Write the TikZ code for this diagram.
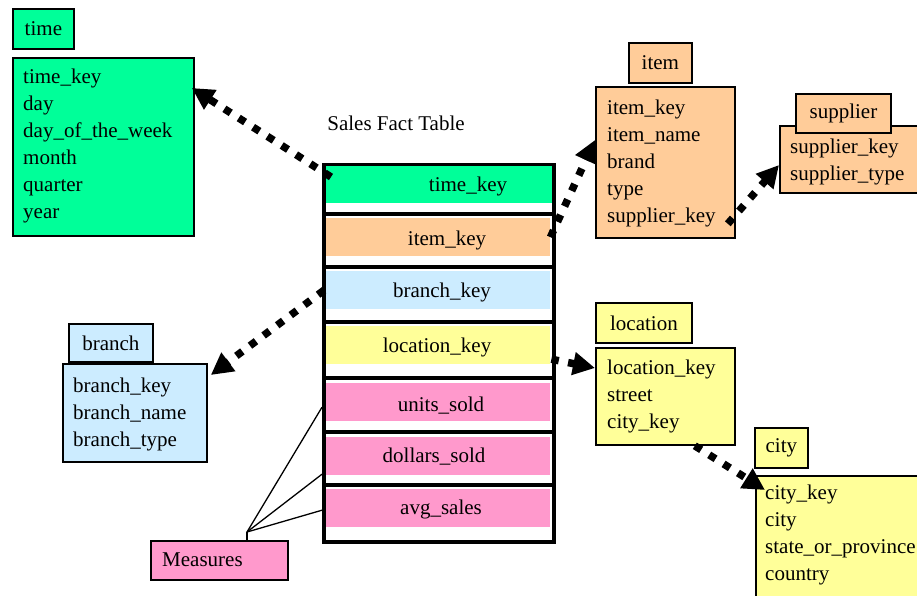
\documentclass[tikz,border=0pt]{standalone}
\usepackage{fontspec}
\setmainfont{Liberation Serif}
\usetikzlibrary{arrows.meta}
\definecolor{dimgreen}{RGB}{0,255,153}
\definecolor{dimorange}{RGB}{255,204,153}
\definecolor{dimblue}{RGB}{204,236,255}
\definecolor{dimyellow}{RGB}{255,255,153}
\definecolor{dimpink}{RGB}{255,153,204}
\tikzset{
  box/.style={draw, line width=1.8pt, anchor=north west, inner sep=0pt},
  fields/.style={anchor=north west, inner sep=0pt, align=left},
  rowfill/.style={anchor=north west, inner sep=0pt, minimum width=226pt, minimum height=38pt},
  rowsep/.style={line width=4pt},
  fk/.style={line width=7.5pt, dash pattern=on 7.5pt off 9.5pt,
             -{Triangle[length=22pt,width=22pt]}},
  measureline/.style={line width=1.3pt},
}
\begin{document}
\begin{tikzpicture}[x=1pt,y=-1pt,font=\fontsize{21}{27}\selectfont]
\useasboundingbox (0,0) rectangle (917,596);

% ---------- time dimension ----------
\node[box, fill=dimgreen, minimum width=181pt, minimum height=178pt] (timebody) at (12,57) {};
\node[fields] (timefields) at (23,69) {time\_key\\day\\day\_of\_the\_week\\month\\quarter\\year};
\node[box, fill=dimgreen, minimum width=61pt, minimum height=40pt] (timetitle) at (12,8) {time};

% ---------- branch dimension ----------
\node[box, fill=dimblue, minimum width=144pt, minimum height=98pt] (branchbody) at (62,363) {};
\node[fields] (branchfields) at (73,378) {branch\_key\\branch\_name\\branch\_type};
\node[box, fill=dimblue, minimum width=84pt, minimum height=38pt] (branchtitle) at (68,323) {branch};

% ---------- measures ----------
\node[box, fill=dimpink, minimum width=137pt, minimum height=39pt] (measures) at (150,540) {};
\node[anchor=west, inner sep=0pt] (measurestext) at (162,560) {Measures};

% ---------- item dimension ----------
\node[box, fill=dimorange, minimum width=139pt, minimum height=151pt] (itembody) at (595,86) {};
\node[fields] (itemfields) at (607,100) {item\_key\\item\_name\\brand\\type\\supplier\_key};
\node[box, fill=dimorange, minimum width=63pt, minimum height=40pt] (itemtitle) at (628,42) {item};

% ---------- supplier dimension ----------
\node[box, fill=dimorange, minimum width=150pt, minimum height=67pt] (supbody) at (779,125) {};
\node[fields] (supfields) at (790,139) {supplier\_key\\supplier\_type};
\node[box, fill=dimorange, minimum width=95pt, minimum height=39pt] (suptitle) at (795,93) {supplier};

% ---------- location dimension ----------
\node[box, fill=dimyellow, minimum width=139pt, minimum height=97pt] (locbody) at (595,347) {};
\node[fields] (locfields) at (607,360) {location\_key\\street\\city\_key};
\node[box, fill=dimyellow, minimum width=96pt, minimum height=40pt] (loctitle) at (595,302) {location};

% ---------- city dimension ----------
\node[box, fill=dimyellow, minimum width=180pt, minimum height=140pt] (citybody) at (755,475) {};
\node[fields] (cityfields) at (765,485) {city\_key\\city\\state\_or\_province\\country};
\node[box, fill=dimyellow, minimum width=53pt, minimum height=40pt] (citytitle) at (754,427) {city};

% ---------- sales fact table ----------
\node[inner sep=0pt] (facttitle) at (396,123) {Sales Fact Table};
\node[rowfill, fill=dimgreen, minimum width=229pt] (rtime) at (324,165) {};
\node[rowfill, fill=dimorange] (ritem) at (324,218) {};
\node[rowfill, fill=dimblue] (rbranch) at (324,271) {};
\node[rowfill, fill=dimyellow] (rloc) at (324,326) {};
\node[rowfill, fill=dimpink] (runits) at (324,383) {};
\node[rowfill, fill=dimpink] (rdollars) at (324,437) {};
\node[rowfill, fill=dimpink] (ravg) at (324,489) {};
\node[draw, line width=3.5pt, anchor=north west, inner sep=0pt,
      minimum width=230pt, minimum height=377pt] (fact) at (322,163) {};
\foreach \yy in {214,267,322,378,432,485}
  \draw[rowsep] (322,\yy) -- (552,\yy);
\node (ttime) at (468,186) {time\_key};
\node (titem) at (447,240) {item\_key};
\node (tbranch) at (442,292) {branch\_key};
\node (tloc) at (437,347) {location\_key};
\node (tunits) at (441,406) {units\_sold};
\node (tdollars) at (434,457) {dollars\_sold};
\node (tavg) at (441,509) {avg\_sales};

% ---------- measure links ----------
\coordinate (hub) at (247,532);
\draw[measureline] (hub) -- (hub |- measures.north);
\draw[measureline] (hub) -- ([xshift=-2pt,yshift=-5pt]runits.west);
\draw[measureline] (hub) -- ([xshift=-2pt,yshift=-18pt]rdollars.west);
\draw[measureline] (hub) -- ([xshift=-2pt,yshift=-2pt]ravg.west);

% ---------- foreign key links ----------
\draw[fk] ([xshift=9pt,yshift=-14pt]fact.north west) -- ([xshift=-3pt,yshift=-31pt]timebody.north east);
\draw[fk] (ritem.east) -- ([yshift=-54pt]itembody.north west);
\draw[fk] ([xshift=-8pt,yshift=15pt]itembody.south east) -- ([yshift=-40pt]supbody.north west);
\draw[fk] (rbranch.west) -- ([xshift=3pt,yshift=-12pt]branchbody.north east);
\draw[fk] ([xshift=1pt,yshift=-14pt]rloc.east) -- ([yshift=-21pt]locbody.north west);
\draw[fk] ([xshift=-41pt]locbody.south east) -- ([xshift=10pt,yshift=-15pt]citybody.north west);
\end{tikzpicture}
\end{document}
